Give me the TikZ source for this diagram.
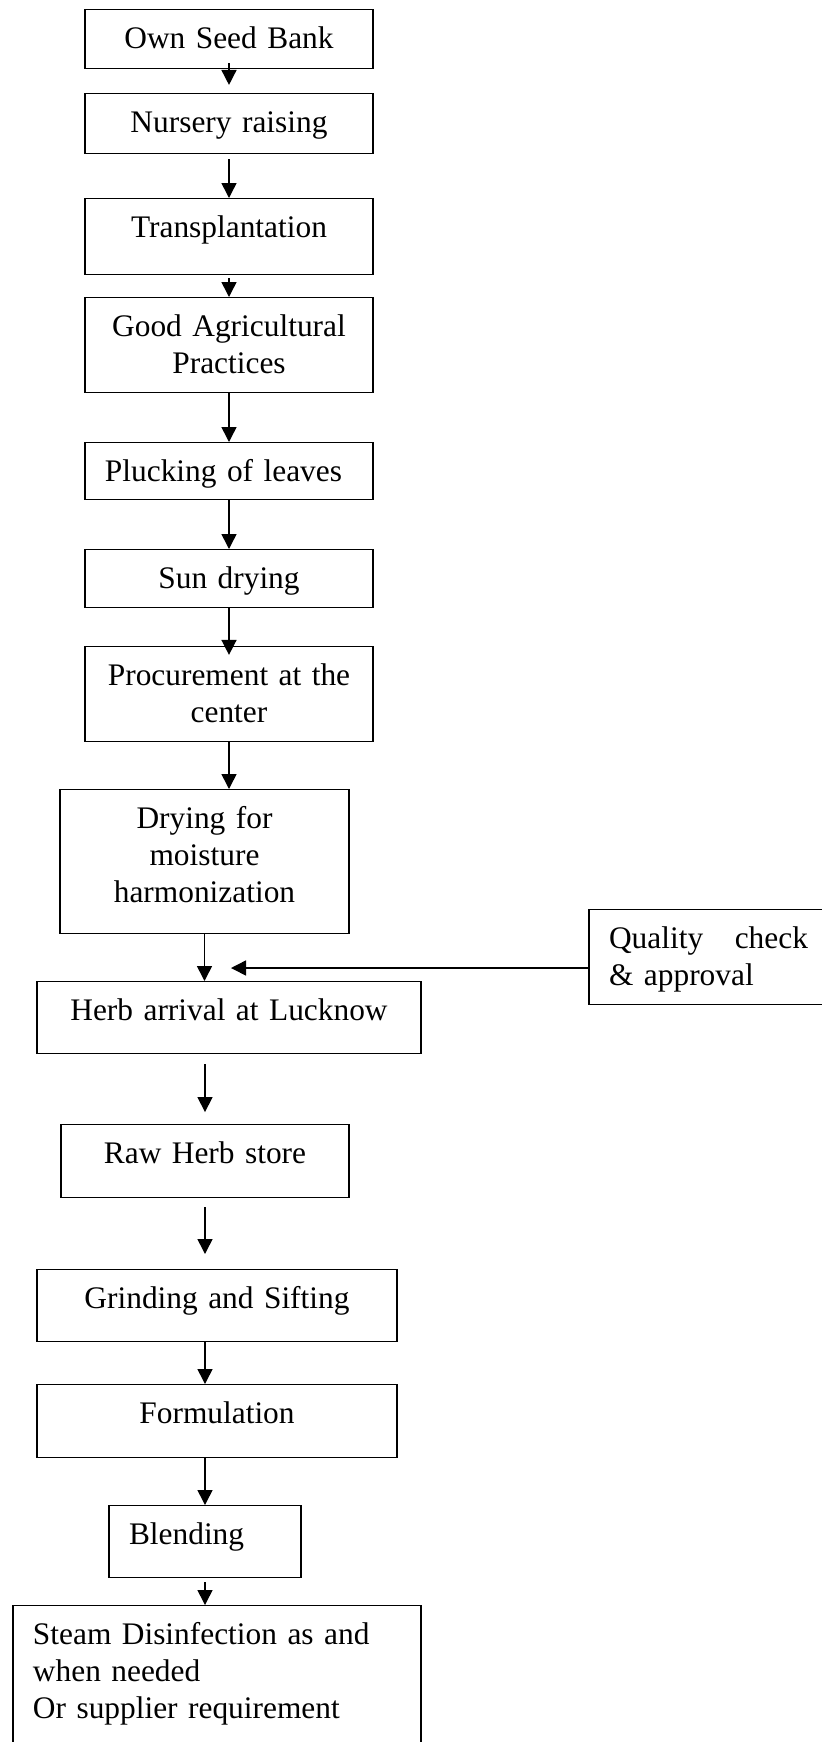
\documentclass[tikz,border=0pt]{standalone}
\usepackage{fontspec}
\setmainfont{Liberation Serif}
\usepackage{tikz}
\usetikzlibrary{arrows.meta,positioning,calc}
\hyphenpenalty=10000

\begin{document}
\begin{tikzpicture}[
    x=0.36pt, y=-0.36pt,
    stage/.style={draw, rectangle, line width=0.5pt, inner xsep=7.2pt, inner ysep=0pt,
        text height=14pt, align=center, anchor=north,
        font=\fontsize{11.3pt}{13.3pt}\selectfont},
    left stage/.style={stage, align=left},
    flow/.style={-{Triangle[length=5.4pt, width=5.4pt]}, line width=0.55pt}
]
\useasboundingbox (0,0) rectangle (822,1742);
\clip (0,0) rectangle (822,1742);

% Field stages
\node[stage, text width=89.3pt, text depth=7.2pt] (seed) at (229, 9) {Own Seed Bank};
\node[stage, text width=89.3pt, text depth=7.6pt] (nursery) at (229, 93) {Nursery raising};
\node[stage, text width=89.3pt, text depth=13.3pt] (transplant) at (229, 198) {Transplantation};
\node[stage, text width=89.3pt, text depth=20.2pt] (gap) at (229, 297) {Good Agricultural\\Practices};
\node[left stage, text width=89.3pt, text depth=6.5pt] (pluck) at (229, 442) {Plucking of leaves};
\node[stage, text width=89.3pt, text depth=6.8pt] (sun) at (229, 549) {Sun drying};
\node[stage, text width=89.3pt, text depth=20.2pt] (procure) at (229, 646) {Procurement at the\\center};
\node[stage, text width=89.6pt, text depth=37.8pt] (moist) at (204.5, 789) {Drying for\\moisture\\harmonization};

% Lucknow stages
\node[stage, text width=123.8pt, text depth=11.9pt] (arrival) at (229, 981) {Herb arrival at Lucknow};
\node[left stage, text width=71.6pt, text depth=20.2pt] (quality) at (708.5, 909) {Quality\hfill check\\\& approval};
\node[stage, text width=89.3pt, text depth=12.2pt] (rawstore) at (205, 1124) {Raw Herb store};
\node[stage, text width=115.2pt, text depth=11.9pt] (grind) at (217, 1269) {Grinding and Sifting};
\node[stage, text width=115.2pt, text depth=12.2pt] (formul) at (217, 1384) {Formulation};
\node[left stage, text width=54.7pt, text depth=11.9pt] (blend) at (205, 1505) {Blending};
\node[left stage, text width=132.5pt, text depth=41.8pt] (steam) at (217, 1605) {Steam Disinfection as and\\when needed\\Or supplier requirement};

\coordinate (qin) at (231, 968);

% Arrows
\draw[flow, shorten <=-2.2pt, shorten >=2.9pt] (seed) -- (nursery);
\draw[flow, shorten <=1.8pt] (nursery) -- (transplant);
\draw[flow, shorten <=1pt] (transplant) -- (gap);
\draw[flow] (gap) -- (pluck);
\draw[flow] (pluck) -- (sun);
\draw[flow, shorten >=-3.2pt] (sun) -- (procure);
\draw[flow] (procure.south) -- (procure.south |- moist.north);
\draw[flow] (moist.south) -- (moist.south |- arrival.north);
\draw[flow] (quality.west |- qin) -- (qin);
\draw[flow, shorten <=3.6pt, shorten >=4.3pt] (rawstore.north |- arrival.south) -- (rawstore.north);
\draw[flow, shorten <=3.2pt, shorten >=5.4pt] (rawstore.south) -- (rawstore.south |- grind.north);
\draw[flow] (rawstore.south |- grind.south) -- (rawstore.south |- formul.north);
\draw[flow] (rawstore.south |- formul.south) -- (blend.north);
\draw[flow, shorten <=1.4pt] (blend.south) -- (blend.south |- steam.north);

\end{tikzpicture}
\end{document}
